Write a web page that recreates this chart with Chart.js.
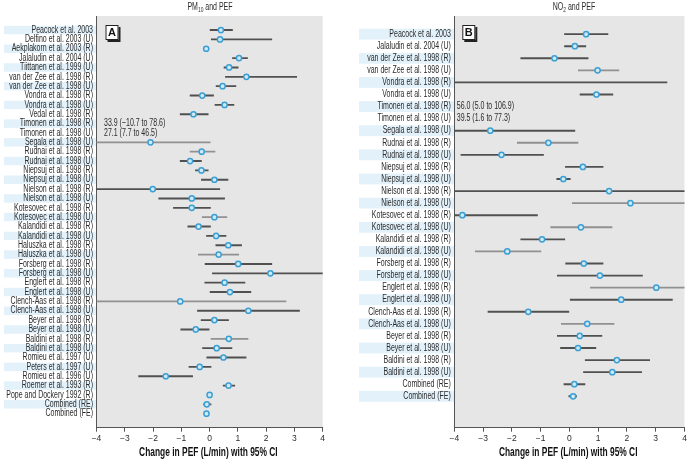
<!DOCTYPE html>
<html>
<head>
<meta charset="utf-8">
<script src="https://cdn.jsdelivr.net/npm/chart.js@4/dist/chart.umd.min.js"></script>
<style>
  body { margin: 0; background: #fff; }
  #wrap { position: relative; width: 690px; height: 461px; }
  #wrap canvas { position: absolute; top: 0; }
</style>
</head>
<body>
<div id="wrap">
  <canvas id="graficoPM10" width="345" height="461" style="left:0"></canvas>
  <canvas id="graficoNO2" width="345" height="461" style="left:345px"></canvas>
</div>
<script>
// panel A: PM10 and PEF
var studiesA = [
  "Peacock et al. 2003", "Delfino et al. 2003 (U)", "Aekplakorn et al. 2003 (R)",
  "Jalaludin et al. 2004 (U)", "Tiittanen et al. 1999 (U)", "van der Zee et al. 1998 (R)",
  "van der Zee et al. 1998 (U)", "Vondra et al. 1998 (R)", "Vondra et al. 1998 (U)",
  "Vedal et al. 1998 (R)", "Timonen et al. 1998 (R)", "Timonen et al. 1998 (U)",
  "Segala et al. 1998 (U)", "Rudnai et al. 1998 (R)", "Rudnai et al. 1998 (U)",
  "Niepsuj et al. 1998 (R)", "Niepsuj et al. 1998 (U)", "Nielson et al. 1998 (R)",
  "Nielson et al. 1998 (U)", "Kotesovec et al. 1998 (R)", "Kotesovec et al. 1998 (U)",
  "Kalandidi et al. 1998 (R)", "Kalandidi et al. 1998 (U)", "Haluszka et al. 1998 (R)",
  "Haluszka et al. 1998 (U)", "Forsberg et al. 1998 (R)", "Forsberg et al. 1998 (U)",
  "Englert et al. 1998 (R)", "Englert et al. 1998 (U)", "Clench-Aas et al. 1998 (R)",
  "Clench-Aas et al. 1998 (U)", "Beyer et al. 1998 (R)", "Beyer et al. 1998 (U)",
  "Baldini et al. 1998 (R)", "Baldini et al. 1998 (U)", "Romieu et al. 1997 (U)",
  "Peters et al. 1997 (U)", "Romieu et al. 1996 (U)", "Roemer et al. 1993 (R)",
  "Pope and Dockery 1992 (R)", "Combined (RE)", "Combined (FE)"
];
var estA = [0.40, 0.37, -0.12, 1.04, 0.69, 1.30, 0.46, -0.26, 0.53, -0.57, null, null,
  -2.09, -0.28, -0.69, -0.29, 0.17, -2.01, -0.63, -0.63, 0.17, -0.39, 0.23, 0.66,
  0.32, 1.01, 2.15, 0.53, 0.72, -1.04, 1.37, 0.17, -0.49, 0.68, 0.25, 0.49,
  -0.35, -1.55, 0.67, 0.00, -0.10, -0.11];
var lowA = [0.00, 0.06, -0.15, 0.81, 0.51, 0.56, 0.23, -0.69, 0.19, -1.04, null, null,
  -4.30, -0.69, -1.04, -0.50, -0.29, -4.40, -1.80, -1.28, -0.26, -0.77, -0.11, 0.22,
  -0.40, -0.16, 0.10, -0.17, 0.00, -4.80, -0.43, -0.30, -1.02, 0.05, -0.25, -0.10,
  -0.73, -2.51, 0.48, -0.02, -0.21, -0.15];
var highA = [0.81, 2.20, -0.09, 1.34, 1.01, 3.08, 0.93, 0.14, 0.86, -0.05, null, null,
  0.02, 0.19, -0.29, -0.05, 0.65, 0.36, 0.53, 0.03, 0.61, 0.03, 0.58, 1.13,
  1.03, 2.20, 4.20, 1.25, 1.46, 2.70, 3.18, 0.67, 0.00, 1.36, 0.79, 1.29,
  0.05, -0.60, 0.89, 0.02, 0.05, -0.07];
var notesA = [
  ["Timonen et al. 1998 (R)", "33.9 (\u221210.7 to 78.6)"],
  ["Timonen et al. 1998 (U)", "27.1 (7.7 to 46.5)"]
];
var lightA = ["Segala et al. 1998 (U)", "Rudnai et al. 1998 (R)", "Kotesovec et al. 1998 (U)",
  "Haluszka et al. 1998 (U)", "Clench-Aas et al. 1998 (R)", "Baldini et al. 1998 (R)"];

// panel B: NO2 and PEF
var studiesB = [
  "Peacock et al. 2003", "Jalaludin et al. 2004 (U)", "van der Zee et al. 1998 (R)",
  "van der Zee et al. 1998 (U)", "Vondra et al. 1998 (R)", "Vondra et al. 1998 (U)",
  "Timonen et al. 1998 (R)", "Timonen et al. 1998 (U)", "Segala et al. 1998 (U)",
  "Rudnai et al. 1998 (R)", "Rudnai et al. 1998 (U)", "Niepsuj et al. 1998 (R)",
  "Niepsuj et al. 1998 (U)", "Nielson et al. 1998 (R)", "Nielson et al. 1998 (U)",
  "Kotesovec et al. 1998 (R)", "Kotesovec et al. 1998 (U)", "Kalandidi et al. 1998 (R)",
  "Kalandidi et al. 1998 (U)", "Forsberg et al. 1998 (R)", "Forsberg et al. 1998 (U)",
  "Englert et al. 1998 (R)", "Englert et al. 1998 (U)", "Clench-Aas et al. 1998 (R)",
  "Clench-Aas et al. 1998 (U)", "Beyer et al. 1998 (R)", "Beyer et al. 1998 (U)",
  "Baldini et al. 1998 (R)", "Baldini et al. 1998 (U)", "Combined (RE)", "Combined (FE)"
];
var estB = [0.58, 0.19, -0.52, 0.98, -4.60, 0.94, null, null, -2.75, -0.73, -2.36,
  0.47, -0.21, 1.38, 2.12, -3.72, 0.40, -0.95, -2.16, 0.50, 1.06, 3.02, 1.80,
  -1.43, 0.62, 0.36, 0.30, 1.65, 1.49, 0.17, 0.13];
var lowB = [-0.17, -0.17, -1.69, 0.31, -12.6, 0.37, null, null, -5.70, -1.81, -3.77,
  -0.14, -0.44, -5.50, 0.10, -6.30, -0.65, -1.69, -3.27, -0.13, -0.42, 0.73, 0.03,
  -2.83, -0.28, -0.42, -0.31, 0.55, 0.49, -0.19, -0.02];
var highB = [1.34, 0.57, 0.65, 1.72, 3.39, 1.51, null, null, 0.19, 0.30, -0.90,
  1.17, 0.03, 8.30, 4.20, -1.11, 1.48, -0.16, -0.99, 1.17, 2.54, 5.30, 3.58,
  -0.02, 1.55, 1.13, 0.92, 2.79, 2.51, 0.54, 0.25];
var notesB = [
  ["Timonen et al. 1998 (R)", "56.0 (5.0 to 106.9)"],
  ["Timonen et al. 1998 (U)", "39.5 (1.6 to 77.3)"]
];
var lightB = ["van der Zee et al. 1998 (U)", "Rudnai et al. 1998 (R)", "Nielson et al. 1998 (U)",
  "Kotesovec et al. 1998 (U)", "Kalandidi et al. 1998 (U)", "Englert et al. 1998 (R)",
  "Clench-Aas et al. 1998 (U)"];

var xTicks = [-4, -3, -2, -1, 0, 1, 2, 3, 4];

var FONT = "'Liberation Sans', Arial, sans-serif";
var TEXT = "#2b2b2b";
var NARROW = 0.7; // the original uses a condensed face

// squeeze a scale's text horizontally around a pivot x
function squeeze(scale, method, factor, pivot, widenClip) {
  if (scale["_sq_" + method]) return;
  var orig = scale[method];
  scale[method] = function () {
    var c = this.ctx;
    var px = pivot(this);
    var left = this.left;
    if (widenClip) this.left = -2000;
    c.save();
    c.translate(px, 0);
    c.scale(factor, 1);
    c.translate(-px, 0);
    orig.apply(this, arguments);
    c.restore();
    this.left = left;
  };
  scale["_sq_" + method] = true;
}

function narrowText(c, text, x, y) {
  var w = c.measureText(text).width * NARROW;
  c.save();
  c.translate(x, y);
  c.scale(NARROW, 1);
  c.textAlign = "left";
  c.fillText(text, 0, 0);
  c.restore();
  return w;
}

function makePanel(canvasId, opts) {
  var studies = opts.studies;
  var points = [];
  var bars = [];
  var barColors = [];
  studies.forEach(function (name, i) {
    if (opts.est[i] === null) return;
    points.push({ x: opts.est[i], y: i });
    bars.push({ x: [opts.low[i], opts.high[i]], y: i });
    barColors.push(opts.light.indexOf(name) >= 0 ? "#919191" : "#505050");
  });

  var panelPlugin = {
    id: "panelDeco",
    beforeDraw: function (chart) {
      var c = chart.ctx;
      var area = chart.chartArea;
      var ys = chart.scales.y;
      squeeze(ys, "drawLabels", NARROW, function (s) { return s.right; }, true);
      squeeze(chart.scales.x, "drawTitle", NARROW, function (s) { return (s.left + s.right) / 2 - 4; }, false);
      c.save();
      c.fillStyle = "#e6e6e6";
      c.fillRect(area.left, area.top, area.right - area.left, area.bottom - area.top);
      // label strips
      c.fillStyle = "#e2f1fa";
      var step = Math.abs(ys.getPixelForValue(1) - ys.getPixelForValue(0));
      for (var i = 0; i < studies.length; i += 2) {
        var py = ys.getPixelForValue(i);
        c.fillRect(opts.stripLeft, py - step * 0.45, area.left - opts.stripLeft, step * 0.9);
      }
      c.restore();
    },
    afterDraw: function (chart) {
      var c = chart.ctx;
      var area = chart.chartArea;
      var ys = chart.scales.y;
      c.save();
      // notes for studies off the scale
      c.fillStyle = TEXT;
      c.font = "10px " + FONT;
      c.textBaseline = "middle";
      opts.notes.forEach(function (n) {
        var idx = studies.indexOf(n[0]);
        narrowText(c, n[1], area.left + opts.noteOffset, ys.getPixelForValue(idx));
      });
      // panel letter box
      var bx = area.left + opts.boxOffset, by = area.top + 9;
      c.fillStyle = "#222";
      c.fillRect(bx + 2, by + 2, 13, 15);
      c.fillStyle = "#fff";
      c.fillRect(bx, by, 13, 15);
      c.strokeStyle = "#222";
      c.lineWidth = 1;
      c.strokeRect(bx + 0.5, by + 0.5, 12, 14);
      c.fillStyle = "#111";
      c.font = "bold 11px " + FONT;
      c.textAlign = "center";
      c.fillText(opts.letter, bx + 6.5, by + 8);
      // panel title with subscript
      var cx = opts.titleX;
      c.font = "10px " + FONT;
      var w1 = c.measureText(opts.title[0]).width * NARROW;
      var w3 = c.measureText(opts.title[2]).width * NARROW;
      c.font = "7px " + FONT;
      var w2 = c.measureText(opts.title[1]).width * NARROW;
      var x0 = cx - (w1 + w2 + w3) / 2;
      c.fillStyle = TEXT;
      c.font = "10px " + FONT;
      narrowText(c, opts.title[0], x0, 7);
      narrowText(c, opts.title[2], x0 + w1 + w2, 7);
      c.font = "7px " + FONT;
      narrowText(c, opts.title[1], x0 + w1, 10);
      c.restore();
    }
  };

  var ctx = document.getElementById(canvasId).getContext("2d");
  return new Chart(ctx, {
    type: "bar",
    data: {
      datasets: [
        {
          type: "scatter",
          data: points,
          pointRadius: 2.6,
          pointBorderWidth: 1.5,
          pointBackgroundColor: "#cfe9f7",
          pointBorderColor: "#3a9fd2",
          clip: 0,
        },
        {
          data: bars,
          backgroundColor: barColors,
          borderWidth: 0,
          barThickness: 1.2,
          clip: 0,
        },
      ],
    },
    options: {
      responsive: false,
      animation: false,
      indexAxis: "y",
      layout: { padding: { top: 16, right: opts.padRight, left: 0, bottom: 0 } },
      plugins: { legend: { display: false }, tooltip: { enabled: false } },
      scales: {
        x: {
          type: "linear",
          min: -4,
          max: 4,
          afterFit: function (s) { s.height = 33.3; },
          afterBuildTicks: function (s) {
            s.ticks = xTicks.map(function (v) { return { value: v }; });
          },
          border: { display: true, color: "#555", width: 1 },
          grid: { drawOnChartArea: false, drawTicks: true, tickLength: 4, color: "#555" },
          ticks: {
            font: { family: FONT, size: 8.5 },
            color: TEXT,
            padding: 1.5,
            callback: function (v) { return v < 0 ? "\u2212" + Math.abs(v) : "" + v; },
          },
          title: {
            display: true,
            text: "Change in PEF (L/min) with 95% CI",
            font: { family: FONT, size: 12, weight: "bold" },
            color: "#111",
            padding: { top: 0, bottom: 1.5 },
          },
        },
        y: {
          type: "linear",
          reverse: true,
          min: -1,
          max: opts.yMax,
          afterFit: function (s) { s.width = opts.axisLeft; },
          border: { display: true, color: "#555", width: 1 },
          grid: { drawOnChartArea: false, drawTicks: false },
          ticks: {
            stepSize: 1,
            autoSkip: false,
            padding: 5,
            font: { family: FONT, size: 10 },
            color: TEXT,
            callback: function (v) {
              return Number.isInteger(v) && v >= 0 && v < studies.length ? studies[v] : "";
            },
          },
        },
      },
    },
    plugins: [panelPlugin],
  });
}

document.addEventListener("DOMContentLoaded", function () {
  makePanel("graficoPM10", {
    studies: studiesA, est: estA, low: lowA, high: highA,
    notes: notesA, light: lightA,
    letter: "A", title: ["PM", "10", " and PEF"], titleX: 210,
    yMax: 42, axisLeft: 96.5, padRight: 22.3,
    stripLeft: 4, noteOffset: 7.5, boxOffset: 9,
  });
  makePanel("graficoNO2", {
    studies: studiesB, est: estB, low: lowB, high: highB,
    notes: notesB, light: lightB,
    letter: "B", title: ["NO", "2", " and PEF"], titleX: 229,
    yMax: 32.1, axisLeft: 109.3, padRight: 5,
    stripLeft: 14, noteOffset: 2.5, boxOffset: 8,
  });
});
</script>
</body>
</html>
